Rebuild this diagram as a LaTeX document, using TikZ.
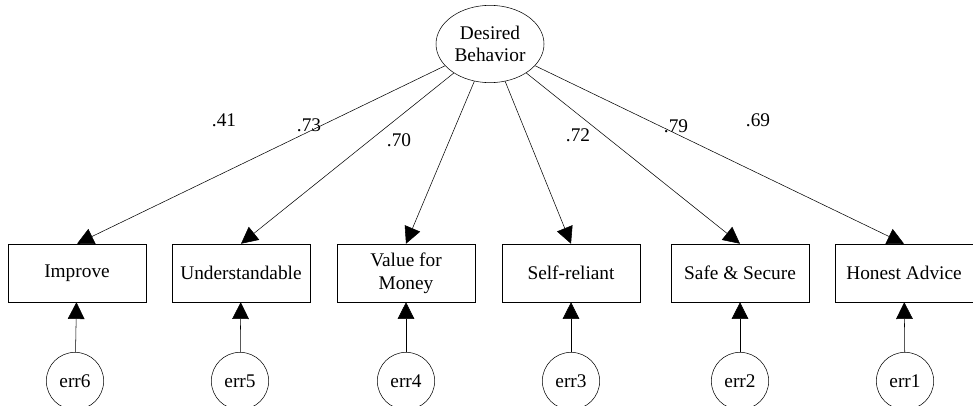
\documentclass[tikz,border=0pt]{standalone}
\usepackage{fontspec}
\setmainfont{Liberation Serif}
\usetikzlibrary{arrows.meta,shapes.geometric}
\begin{document}
\begin{tikzpicture}[x=0.75pt,y=-0.75pt,
  every node/.style={font=\fontsize{14.5}{17}\selectfont},
  obs/.style={draw,rectangle,minimum width=103.5pt,minimum height=43.5pt,inner sep=0.5pt,align=center},
  lat/.style={draw,ellipse,minimum width=81pt,minimum height=58pt,inner sep=0pt,align=center},
  errc/.style={draw,circle,minimum size=43pt,inner sep=0pt},
  path/.style={draw,-{Triangle[length=12.5pt,width=12.5pt]}},
  lbl/.style={inner sep=0pt}]
\useasboundingbox (0,0) rectangle (973,406);
\node[lat] (db) at (490,44) {Desired\\Behavior};
\node[obs] (b1) at (77,273) {Improve};
\node[obs] (b2) at (241,273) {Understandable};
\node[obs] (b3) at (406,273) {Value for\\Money};
\node[obs] (b4) at (571,273) {Self-reliant};
\node[obs] (b5) at (740,273) {Safe \& Secure};
\node[obs] (b6) at (904,273) {Honest Advice};
\node[errc] (e6) at (75,381) {err6};
\node[errc] (e5) at (240,381) {err5};
\node[errc] (e4) at (406,381) {err4};
\node[errc] (e3) at (571,381) {err3};
\node[errc] (e2) at (740,381) {err2};
\node[errc] (e1) at (905,381) {err1};
\foreach \b in {1,...,6}{\draw[path] (db) -- (b\b.north);}
\draw[path] (e6) -- (b1);
\draw[path] (e5) -- (b2);
\draw[path] (e4) -- (b3);
\draw[path] (e3) -- (b4);
\draw[path] (e2) -- (b5);
\draw[path] (e1) -- (b6);
\node[lbl] (l1) at (224,120) {.41};
\node[lbl] (l2) at (309,125) {.73};
\node[lbl] (l3) at (399,140) {.70};
\node[lbl] (l4) at (578,135) {.72};
\node[lbl] (l5) at (676,126) {.79};
\node[lbl] (l6) at (758,120) {.69};
\end{tikzpicture}
\end{document}
